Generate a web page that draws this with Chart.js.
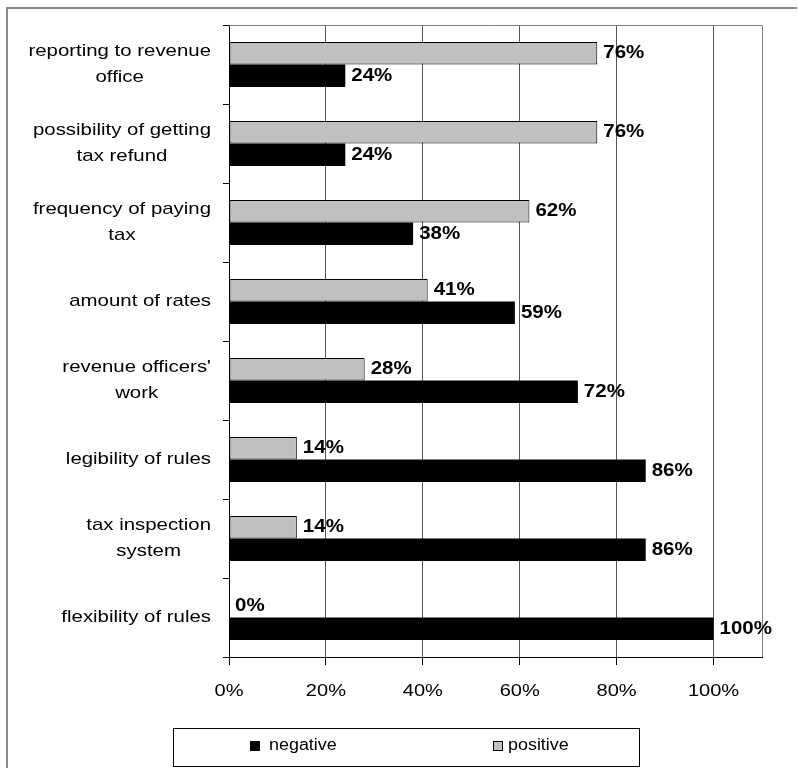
<!DOCTYPE html>
<html>
<head>
<meta charset="utf-8">
<script src="https://cdn.jsdelivr.net/npm/chart.js@4.4.1/dist/chart.umd.min.js"></script>
<style>
  body { margin: 0; background: #fff; }
  canvas { display: block; }
</style>
</head>
<body>
<canvas id="myBarChart" width="798" height="768"></canvas>
<script>
let categories = [
    ['reporting to revenue', 'office'],
    ['possibility of getting', 'tax refund'],
    ['frequency of paying', 'tax'],
    ['amount of rates'],
    ["revenue officers'", 'work'],
    ['legibility of rules'],
    ['tax inspection', 'system'],
    ['flexibility of rules'],
];
let positive = [76, 76, 62, 41, 28, 14, 14, 0];
let negative = [24, 24, 38, 59, 72, 86, 86, 100];
let xTicks = [0, 20, 40, 60, 80, 100];

const FONT = '"Liberation Sans", Arial, sans-serif';

// Excel-ish horizontally stretched text
function stretchText(ctx, text, x, y, align, sx) {
    ctx.save();
    ctx.translate(x, y);
    ctx.scale(sx, 1);
    ctx.textAlign = align;
    ctx.fillText(text, 0, 0);
    ctx.restore();
}

const decorations = {
    id: 'decorations',
    beforeDatasetsDraw(chart) {
        let c = chart.ctx, a = chart.chartArea;
        c.save();
        c.strokeStyle = '#808080';
        c.lineWidth = 1;
        c.beginPath();
        c.moveTo(a.left, a.top + 0.5);
        c.lineTo(a.right + 0.5, a.top + 0.5);
        c.lineTo(a.right + 0.5, a.bottom);
        c.stroke();
        c.restore();
    },
    afterDraw(chart) {
        let c = chart.ctx, a = chart.chartArea;
        c.save();
        // outer frame (only top/left visible)
        c.strokeStyle = '#8a8a8a';
        c.lineWidth = 2;
        c.beginPath();
        c.moveTo(7, 768);
        c.lineTo(7, 8);
        c.lineTo(797, 8);
        c.stroke();

        c.fillStyle = '#000';
        c.textBaseline = 'middle';

        // category labels
        let ys = chart.scales.y;
        c.font = '17px ' + FONT;
        categories.forEach((lines, i) => {
            let cy = ys.getPixelForValue(i);
            let w = Math.max(...lines.map(l => c.measureText(l).width)) * 1.2;
            let cx = 211 - w / 2;
            lines.forEach((l, k) => {
                let y = cy + (k - (lines.length - 1) / 2) * 26;
                stretchText(c, l, cx, y, 'center', 1.2);
            });
        });

        // x tick labels
        let xs = chart.scales.x;
        xTicks.forEach(v => {
            stretchText(c, v + '%', xs.getPixelForValue(v), a.bottom + 34, 'center', 1.18);
        });

        // value labels
        c.font = 'bold 18px ' + FONT;
        chart.data.datasets.forEach((ds, i) => {
            chart.getDatasetMeta(i).data.forEach((bar, j) => {
                stretchText(c, ds.data[j] + '%', bar.x + 6, bar.y, 'left', 1.14);
            });
        });

        // legend
        c.strokeStyle = '#000';
        c.lineWidth = 1;
        c.strokeRect(173.5, 728.5, 466, 38);
        c.font = '16px ' + FONT;
        let items = [
            { ds: chart.data.datasets[1], bx: 250, tx: 269 },
            { ds: chart.data.datasets[0], bx: 493, tx: 508 },
        ];
        items.forEach(it => {
            c.fillStyle = it.ds.backgroundColor;
            c.fillRect(it.bx, 741, 10, 10);
            c.strokeStyle = '#000';
            c.strokeRect(it.bx + 0.5, 741.5, 9, 9);
            c.fillStyle = '#000';
            stretchText(c, it.ds.label, it.tx, 746, 'left', 1.12);
        });
        c.restore();
    }
};

let ctx1 = document.getElementById('myBarChart').getContext('2d');
let myBarChart = new Chart(ctx1, {
    type: 'bar',
    data: {
        labels: categories.map(l => l.join(' ')),
        datasets: [{
            label: 'positive',
            data: positive,
            backgroundColor: '#c0c0c0',
            borderColor: '#000',
            borderWidth: c => c.raw === 0 ? 0 : 1,
            borderSkipped: false,
        }, {
            label: 'negative',
            data: negative,
            backgroundColor: '#000000',
            borderColor: '#000',
            borderWidth: 0,
        }]
    },
    options: {
        indexAxis: 'y',
        responsive: false,
        animation: false,
        categoryPercentage: 0.57,
        barPercentage: 1,
        layout: { padding: { left: 0, top: 25, right: 36, bottom: 51 } },
        plugins: {
            legend: { display: false },
            tooltip: { enabled: false },
        },
        scales: {
            x: {
                min: 0,
                max: 110,
                afterBuildTicks: s => { s.ticks = xTicks.map(v => ({ value: v })); },
                afterFit: s => { s.height = 60; },
                ticks: { display: false },
                grid: { color: '#555', tickColor: '#000', tickLength: 8 },
                border: { color: '#000' },
            },
            y: {
                afterFit: s => { s.width = 229; },
                ticks: { display: false },
                grid: { drawOnChartArea: false, color: '#000', tickLength: 6, offset: true },
                border: { color: '#000' },
            }
        }
    },
    plugins: [decorations],
});
</script>
</body>
</html>
